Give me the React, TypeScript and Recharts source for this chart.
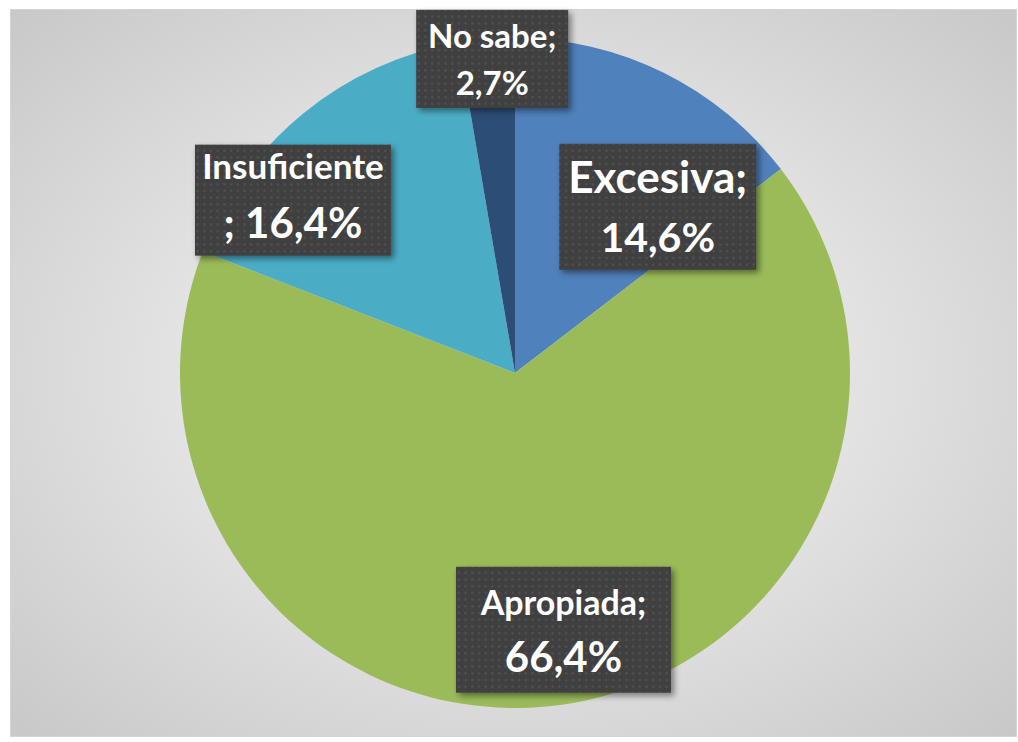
import { PieChart, Pie, Cell } from "recharts";

const categories = ["Excesiva", "Apropiada", "Insuficiente", "No sabe"];
const percentages = [14.6, 66.4, 16.4, 2.7];
const sliceColors = ["#4F81BD", "#9BBB59", "#4BACC6", "#2C4D75"];

const data = categories.map((name, i) => ({ name, value: percentages[i] }));

// per-slice label box placement (Excel "best fit" doesn't sit on the mid angle)
const labelLayout = [
  { r: 0.654, turn: 14.4, w: 197, h: 126, f1: 44, f2: 41, b1: -14, b2: 45, semiNext: false },
  { r: 0.78, turn: -2.6, w: 215, h: 126, f1: 34, f2: 42, b1: -15, b2: 42, semiNext: false },
  { r: 0.84, turn: -12.9, w: 196, h: 111, f1: 35, f2: 42, b1: -21.5, b2: 37.5, semiNext: true },
  { r: 0.94, turn: 0.7, w: 152, h: 98, f1: 33, f2: 33, b1: -11, b2: 36, semiNext: false },
];

const RAD = Math.PI / 180;
const fmt = (v: number) => v.toFixed(1).replace(".", ",") + "%";

function BoxLabel(props: any) {
  const { cx, cy, midAngle, outerRadius, index, name, value } = props;
  const L = labelLayout[index];
  const a = (midAngle - L.turn) * RAD;
  const x = cx + outerRadius * L.r * Math.cos(a);
  const y = cy - outerRadius * L.r * Math.sin(a);
  const line1 = L.semiNext ? name : name + ";";
  const line2 = L.semiNext ? "; " + fmt(value) : fmt(value);
  return (
    <g>
      <rect
        x={x - L.w / 2}
        y={y - L.h / 2}
        width={L.w}
        height={L.h}
        fill="url(#dots)"
        filter="url(#boxShadow)"
      />
      <text
        x={x}
        y={y + L.b1}
        textAnchor="middle"
        fill="#ffffff"
        fontSize={L.f1}
        fontWeight="bold"
        fontFamily="Lato, 'Open Sans', sans-serif"
      >
        {line1}
      </text>
      <text
        x={x}
        y={y + L.b2}
        textAnchor="middle"
        fill="#ffffff"
        fontSize={L.f2}
        fontWeight="bold"
        fontFamily="Lato, 'Open Sans', sans-serif"
      >
        {line2}
      </text>
    </g>
  );
}

export default function App() {
  return (
    <div style={{ position: "absolute", left: 0, top: 0, width: 1018, height: 742, background: "#ffffff" }}>
      <div
        style={{
          position: "absolute",
          left: 10,
          top: 9,
          width: 1007,
          height: 728,
          boxSizing: "border-box",
          border: "1px solid #d4d4d4",
          background: "radial-gradient(ellipse at 50% 50%, #f3f3f3 0%, #e4e4e4 45%, #c8c8c8 100%)",
        }}
      />
      <div style={{ position: "absolute", left: 0, top: 0 }}>
        <PieChart width={1018} height={742} margin={{ top: 0, right: 0, bottom: 0, left: 0 }}>
          <defs>
            <pattern id="dots" width="6.7" height="6.7" patternUnits="userSpaceOnUse">
              <rect width="6.7" height="6.7" fill="#3f3f3f" />
              <rect x="2.3" y="2.3" width="2" height="2" fill="#565656" />
            </pattern>
            <filter id="boxShadow" x="-20%" y="-20%" width="140%" height="140%">
              <feDropShadow dx="3" dy="3" stdDeviation="3" floodColor="#000" floodOpacity="0.45" />
            </filter>
          </defs>
          <Pie
            data={data}
            dataKey="value"
            nameKey="name"
            cx={515}
            cy={373}
            outerRadius={335}
            startAngle={90}
            endAngle={-270}
            stroke="none"
            labelLine={false}
            label={BoxLabel}
            isAnimationActive={false}
          >
            {data.map((d, i) => (
              <Cell key={d.name} fill={sliceColors[i]} />
            ))}
          </Pie>
        </PieChart>
      </div>
    </div>
  );
}
